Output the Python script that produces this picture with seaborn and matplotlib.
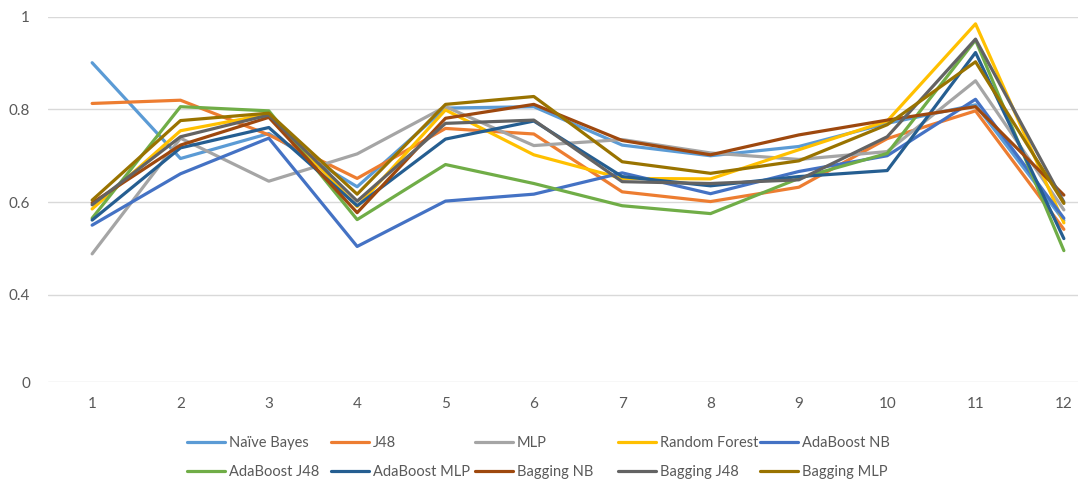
import matplotlib
matplotlib.use('Agg')
import matplotlib.pyplot as plt
import pandas as pd
import seaborn as sns

# categories on the x axis
folds = list(range(1, 13))

# one list per classifier
naive_bayes = [0.901, 0.694, 0.748, 0.633, 0.803, 0.806, 0.723, 0.700, 0.720, 0.770, 0.810, 0.560]
j48 = [0.813, 0.820, 0.745, 0.651, 0.759, 0.747, 0.622, 0.601, 0.632, 0.737, 0.797, 0.541]
mlp = [0.488, 0.738, 0.645, 0.704, 0.806, 0.722, 0.735, 0.706, 0.692, 0.709, 0.862, 0.583]
random_forest = [0.585, 0.754, 0.790, 0.590, 0.799, 0.702, 0.651, 0.650, 0.713, 0.775, 0.985, 0.555]
adaboost_nb = [0.550, 0.661, 0.738, 0.504, 0.602, 0.617, 0.663, 0.618, 0.666, 0.700, 0.822, 0.565]
adaboost_j48 = [0.565, 0.806, 0.797, 0.562, 0.681, 0.640, 0.592, 0.575, 0.651, 0.705, 0.950, 0.495]
adaboost_mlp = [0.561, 0.717, 0.761, 0.592, 0.736, 0.775, 0.655, 0.635, 0.655, 0.668, 0.923, 0.521]
bagging_nb = [0.598, 0.723, 0.783, 0.577, 0.781, 0.811, 0.733, 0.702, 0.745, 0.777, 0.806, 0.615]
bagging_j48 = [0.594, 0.741, 0.788, 0.602, 0.770, 0.777, 0.644, 0.640, 0.648, 0.741, 0.952, 0.600]
bagging_mlp = [0.604, 0.776, 0.792, 0.617, 0.811, 0.828, 0.687, 0.662, 0.689, 0.767, 0.903, 0.597]

names = ['Naïve Bayes', 'J48', 'MLP', 'Random Forest', 'AdaBoost NB',
         'AdaBoost J48', 'AdaBoost MLP', 'Bagging NB', 'Bagging J48', 'Bagging MLP']
series = [naive_bayes, j48, mlp, random_forest, adaboost_nb,
          adaboost_j48, adaboost_mlp, bagging_nb, bagging_j48, bagging_mlp]
colors = ['#5B9BD5', '#ED7D31', '#A5A5A5', '#FFC000', '#4472C4',
          '#70AD47', '#255E91', '#9E480E', '#636363', '#997300']

# long form table for seaborn
rows = []
for name, vals in zip(names, series):
    for f, v in zip(folds, vals):
        rows.append({'fold': f, 'score': v, 'model': name})
df = pd.DataFrame(rows)

sns.set_style('white')
plt.rcParams['font.family'] = ['Lato', 'DejaVu Sans']

W, H = 1078, 483
fig = plt.figure(figsize=(W / 100, H / 100), dpi=100)
ax = fig.add_axes([0.0445, 0.209, 0.9555, 0.756])

sns.lineplot(data=df, x='fold', y='score', hue='model', hue_order=names,
             palette=colors, linewidth=2.3, ax=ax, legend=False)

# the bottom gridline sits closer than a linear step, mimic it
ax.set_ylim(0.211, 1.0)
ax.set_yticks([0.211, 0.4, 0.6, 0.8, 1.0])
ax.set_yticklabels(['0', '0.4', '0.6', '0.8', '1'])
ax.set_xlim(0.5, 12.16)
ax.set_xticks(folds)
ax.set_xticklabels([str(f) for f in folds])
ax.set_xlabel('')
ax.set_ylabel('')
ax.yaxis.grid(True, color='#D9D9D9', linewidth=1)
ax.set_axisbelow(True)
for s in ax.spines.values():
    s.set_visible(False)
ax.tick_params(axis='both', length=0, labelsize=11, labelcolor='#595959')
ax.tick_params(axis='x', pad=11)
ax.tick_params(axis='y', pad=13)

# excel style legend: fixed column grid, filled row by row
col_x = [187, 331, 475, 618, 760]
row_y = [443, 472]
for i, (name, c) in enumerate(zip(names, colors)):
    x = col_x[i % 5] / W
    y = 1 - row_y[i // 5] / H
    fig.legend([plt.Line2D([], [], color=c, linewidth=2.3)], [name],
               loc='center left', bbox_to_anchor=(x, y), frameon=False,
               fontsize=10.5, labelcolor='#595959', handlelength=2.6,
               handletextpad=0.25, borderpad=0, borderaxespad=0)

fig.savefig('out.png', dpi=100)
